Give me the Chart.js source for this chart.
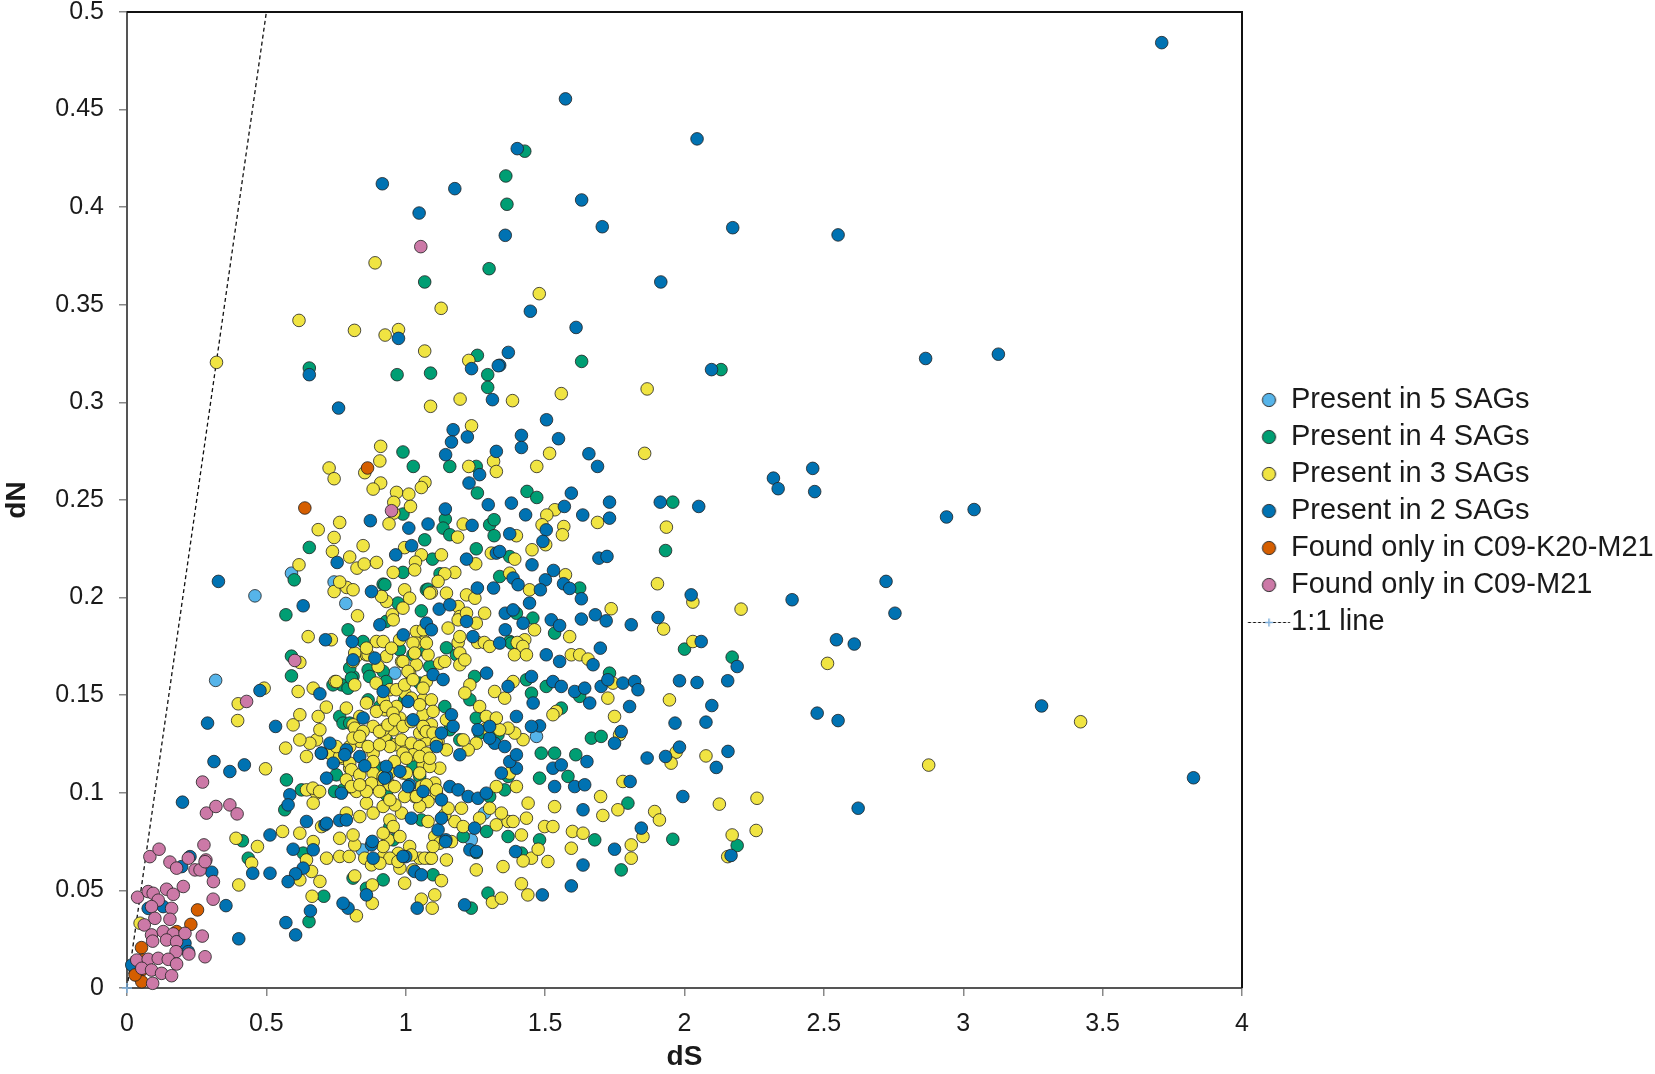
<!DOCTYPE html>
<html>
<head>
<meta charset="utf-8">
<title>dN vs dS</title>
<script src="https://cdn.jsdelivr.net/npm/chart.js@4.4.1/dist/chart.umd.min.js"></script>
<style>
  html, body { margin: 0; padding: 0; background: #fff; }
</style>
</head>
<body>
<canvas id="myChart" width="1655" height="1074"></canvas>
<script>
const FONT = "'Liberation Sans', Arial, Helvetica, sans-serif";

const seriesNames = [
    'Present in 5 SAGs',
    'Present in 4 SAGs',
    'Present in 3 SAGs',
    'Present in 2 SAGs',
    'Found only in C09-K20-M21',
    'Found only in C09-M21',
    '1:1 line',
];
const seriesColors = ['#56B4E9', '#009E73', '#F0E442', '#0072B2', '#D55E00', '#CC79A7'];

// [dS, dN] pairs
const sag5 = [
    [0.318,0.1576],[0.459,0.2009],[0.59,0.2125],[0.743,0.208],[0.785,0.197],[0.961,0.1613],
    [1.469,0.1289],[1.283,0.0896],[1.235,0.0759],[0.844,0.0707]
];

const sag4 = [
    [1.427,0.4287],[1.359,0.416],[1.363,0.4015],[1.631,0.321],[2.131,0.3168],
    [1.299,0.3685],[1.068,0.3617],[0.654,0.3176],[0.969,0.3142],[1.089,0.315],[1.257,0.3241],[1.294,0.3142],[1.294,0.3077],
    [0.99,0.2746],[1.027,0.2672],[1.158,0.2672],[1.257,0.2536],[0.99,0.2428],[1.142,0.2402],[1.134,0.2356],[1.158,0.2322],
    [1.435,0.2544],[1.47,0.2513],[1.301,0.2373],[1.317,0.2399],[1.317,0.2317],[0.654,0.2257],[0.6,0.2091],[1.068,0.2296],
    [1.096,0.2197],[1.253,0.225],[1.373,0.221],[0.919,0.2069],[0.57,0.1912],[0.972,0.1972],[1.056,0.1932],[1.074,0.204],
    [1.123,0.2122],[1.337,0.2108],[0.793,0.1835],[0.847,0.1775],[1.146,0.1743],
    [1.958,0.2489],[1.932,0.2241],[1.624,0.2049],[2.0,0.1736],[1.534,0.1818],[1.456,0.1895],[1.373,0.1775],
    [1.253,0.2672],[0.99,0.2129],[0.925,0.2066],[1.08,0.2043],[1.397,0.192],
    [2.171,0.1695],[1.958,0.0762],[2.189,0.073],
    [1.379,0.1767],[1.026,0.1707],[1.182,0.1707],[0.919,0.1622],[1.05,0.1562],[1.247,0.1596],[1.433,0.1579],[1.451,0.151],
    [1.23,0.1477],[1.504,0.1545],[1.624,0.1494],[1.731,0.1613],[1.558,0.1434],[1.666,0.128],[1.701,0.1289],[1.486,0.1203],
    [1.534,0.1203],[1.61,0.1195],[1.582,0.1084],[1.48,0.1075],[1.797,0.0947],[1.48,0.0759],[1.367,0.0776],[1.415,0.0691],
    [1.678,0.0759],[1.773,0.0605],[1.29,0.0802],[1.206,0.0776],[1.056,0.0861],[0.931,0.0989],[1.367,0.1084],[1.355,0.1015],
    [1.301,0.0981],[1.331,0.1297],[1.265,0.1306],[1.194,0.1271],[0.907,0.1442],[1.14,0.1442],[1.253,0.1383],[1.158,0.1323],
    [0.913,0.1126],[1.026,0.1135],[1.05,0.1084],
    [0.632,0.0691],[0.811,0.0563],[0.859,0.0511],[0.919,0.0554],[1.098,0.058],[1.295,0.0486],[1.235,0.0409],
    [0.706,0.047],[0.653,0.034],[1.253,0.0694],
    [0.59,0.17],[0.59,0.1599],[0.414,0.0754],[0.435,0.0665],
    [0.77,0.1553],[0.793,0.1536],[0.811,0.1596],[0.763,0.1391],[0.775,0.1357],[0.572,0.1066],[0.566,0.0913],[0.931,0.1271],
    [0.943,0.0827],[0.955,0.0759],
    [0.93,0.1878],[0.978,0.1733],[1.05,0.1733],[1.086,0.1647],[0.799,0.1639],[0.865,0.163],[0.805,0.1587],[0.87,0.1596],
    [0.93,0.157],[0.865,0.1476],[0.739,0.1553],[0.996,0.1476],[0.799,0.1357],[0.751,0.1092],[0.775,0.1015],[0.626,0.1015],
    [0.745,0.1007]
];

const sag3 = [
    [3.421,0.1364],[2.876,0.1142],[1.479,0.3557],
    [0.89,0.3715],[1.127,0.3482],[0.617,0.342],[0.816,0.3369],[0.926,0.3345],[0.974,0.3373],[0.321,0.3205],[1.068,0.3263],
    [1.226,0.3215],[1.383,0.3009],[1.195,0.3017],[1.089,0.298],[1.236,0.288],[1.226,0.2672],[1.315,0.2698],[1.325,0.2646],
    [1.47,0.2672],[0.91,0.2775],[0.907,0.27],[0.853,0.264],[0.725,0.2664],[0.743,0.2609],[0.91,0.2587],[0.883,0.2556],
    [1.069,0.259],[1.056,0.2564],[0.967,0.2539],[1.011,0.253],[0.957,0.2488],[1.017,0.2467],[0.957,0.2433],[0.94,0.2378],
    [0.763,0.2385],[0.686,0.2348],[0.743,0.2308],[0.737,0.2236],[0.847,0.2266],[1.206,0.2377],[1.186,0.231],[1.397,0.2317],
    [0.617,0.2168],[0.799,0.2208],[0.825,0.2151],[0.851,0.2172],[0.895,0.218],[1.056,0.2219],[1.035,0.2182],[1.128,0.2219],
    [1.251,0.2173],[1.307,0.2228],[1.391,0.2197],[1.453,0.2245],[0.743,0.2031],[0.788,0.2052],[0.811,0.204],[0.763,0.208],
    [0.931,0.198],[0.996,0.204],[1.014,0.1997],[0.99,0.1946],[0.952,0.1912],[0.955,0.1886],[0.827,0.1907],[1.092,0.2026],
    [1.146,0.2023],[1.176,0.2129],[1.14,0.2122],[1.116,0.2083],[1.188,0.1954],[1.218,0.2014],[1.248,0.1997],[1.194,0.1903],
    [1.253,0.1869],[1.283,0.192],[1.152,0.1844],[1.373,0.2125],[1.444,0.204],[1.462,0.1835],[1.427,0.1784],[0.65,0.18],
    [0.733,0.1784],[0.895,0.1775],[0.919,0.1775],[0.978,0.1784],[1.038,0.1826],[1.068,0.1775],[1.188,0.177],[1.258,0.177],
    [1.282,0.177],[1.4,0.177],[1.42,0.175],
    [1.866,0.3069],[1.558,0.3045],[1.516,0.2739],[1.857,0.2739],[1.535,0.245],[1.506,0.2423],[1.489,0.2373],[1.688,0.2385],
    [1.935,0.2361],[1.567,0.2364],[1.562,0.2322],[1.502,0.2271],[1.573,0.2117],[1.903,0.2071],[2.03,0.1977],[2.203,0.1941],
    [1.737,0.1943],[1.925,0.1839],[1.588,0.18],[2.03,0.1775],
    [0.996,0.2256],[0.955,0.2129],[1.032,0.2142],[1.086,0.2023],[0.913,0.2006],[1.188,0.1886],[1.218,0.192],[1.194,0.18],
    [1.063,0.1835],
    [2.513,0.1663],[1.946,0.1476],[1.97,0.1208],[1.952,0.1152],[2.077,0.1189],[2.125,0.0942],[2.26,0.0972],[2.171,0.0784],
    [2.257,0.0807],[2.155,0.0673],
    [1.038,0.1767],[1.08,0.1707],[1.194,0.1716],[1.301,0.175],[1.39,0.1707],[1.433,0.1707],[1.594,0.1707],[1.624,0.1707],
    [1.654,0.1685],[1.038,0.1656],[1.194,0.1656],[1.212,0.1681],[0.985,0.1673],[0.931,0.1699],[0.949,0.1741],[1.014,0.1613],
    [1.074,0.157],[1.122,0.1664],[1.14,0.1673],[1.23,0.1553],[1.212,0.1511],[1.385,0.157],[1.319,0.1519],[1.355,0.1485],
    [1.743,0.1562],[1.725,0.1485],[1.749,0.1391],[1.54,0.1417],[1.528,0.14],[1.767,0.1297],[1.779,0.1058],[1.699,0.0981],
    [1.761,0.0913],[1.707,0.0884],[1.893,0.0904],[1.91,0.0861],[1.534,0.0929],[1.498,0.0827],[1.528,0.0827],[1.598,0.0802],
    [1.636,0.0793],[1.594,0.0716],[1.51,0.0648],[1.451,0.0665],[1.475,0.0711],[1.349,0.0622],[1.421,0.0651],[1.809,0.0733],
    [1.809,0.0665],[1.851,0.0776],[1.253,0.0605],[1.325,0.0836],[1.367,0.0853],[1.385,0.0853],[1.433,0.087],[1.415,0.0784],
    [1.164,0.075],[1.146,0.0656],[1.086,0.0665],[1.05,0.0665],[0.973,0.069],[0.937,0.0759],[0.919,0.0673],[0.979,0.0614],
    [1.026,0.0605],[1.176,0.0853],[1.206,0.0827],[1.14,0.0887],[1.08,0.0853],[1.104,0.0776],[1.122,0.0742],[1.11,0.0998],
    [1.08,0.0955],[1.05,0.093],[1.032,0.0981],[0.985,0.0896],[0.961,0.0938],[0.943,0.0861],[0.955,0.0827],[0.919,0.0793],
    [0.979,0.0776],[1.325,0.1032],[1.343,0.0896],[1.301,0.0921],[1.265,0.087],[1.2,0.0921],[1.152,0.0921],[1.397,0.1032],
    [1.373,0.1101],[1.439,0.0947],[1.421,0.1272],[1.391,0.1306],[1.367,0.1331],[1.337,0.1323],[1.289,0.1331],[1.253,0.1254],
    [1.224,0.122],[1.206,0.1271],[1.146,0.122],[1.116,0.1263],[1.074,0.1271],[1.038,0.1229],[1.05,0.1306],[0.997,0.1254],
    [0.961,0.1246],[0.925,0.1289],[0.955,0.1323],[0.943,0.1528],[0.997,0.1511],[1.062,0.1477],[1.062,0.14],[1.092,0.1349],
    [1.068,0.1323],[0.979,0.1383],[0.967,0.1442],[0.925,0.1425],[1.146,0.1374],[1.265,0.1442],[1.289,0.1391],[1.325,0.1383],
    [0.991,0.1101],[1.062,0.1143],[1.122,0.1126],[1.104,0.105],[1.056,0.1032],
    [0.668,0.075],[0.716,0.0665],[0.763,0.0674],[0.797,0.0674],[0.817,0.0733],[0.853,0.0665],[0.877,0.0631],[0.919,0.0725],
    [0.943,0.0665],[0.972,0.0648],[1.014,0.0725],[1.02,0.0682],[1.068,0.0665],[1.092,0.0665],[1.098,0.0725],[0.62,0.0554],
    [0.662,0.0597],[0.692,0.0546],[0.664,0.047],[0.823,0.037],[0.88,0.0434],[0.88,0.0528],[0.817,0.0574],[0.996,0.0537],
    [1.128,0.055],[1.104,0.0477],[1.056,0.0455],[1.095,0.0409],[1.415,0.0534],[1.438,0.0477],[1.311,0.0439],[1.343,0.046],
    [0.62,0.1668],[0.492,0.1536],[0.399,0.1456],[0.397,0.137],[0.569,0.1229],[0.497,0.1123],[0.401,0.0528],[0.391,0.0767],
    [0.468,0.0725],[0.447,0.064],[0.558,0.0802],[0.62,0.0793],[0.644,0.0656],[0.907,0.0639],[0.698,0.0827],[0.763,0.0767],
    [0.047,0.0332],
    [0.614,0.1519],[0.668,0.1536],[0.746,0.157],[0.787,0.1434],[0.823,0.17],[0.859,0.1707],[0.901,0.1647],[0.919,0.1477],
    [0.895,0.1417],[0.859,0.146],[0.835,0.1391],[0.811,0.1348],[0.883,0.134],[0.919,0.1323],[0.943,0.1237],[0.883,0.1203],
    [0.835,0.1263],[0.799,0.1237],[0.775,0.1177],[0.799,0.1126],[0.74,0.1203],[0.68,0.1271],[0.656,0.1254],[0.62,0.1271],
    [0.644,0.1186],[0.596,0.1348],[0.62,0.14],[0.692,0.1323],[0.686,0.1391],[0.644,0.1015],[0.68,0.0998],[0.668,0.0947],
    [0.811,0.0784],[0.835,0.0878],[0.859,0.0947],[0.883,0.0896],[0.919,0.093],[0.943,0.0964],[0.859,0.1032],[0.895,0.1049],
    [0.943,0.1041],[0.811,0.1024],[0.787,0.0896],[0.823,0.1007],[0.883,0.1101],[0.919,0.1083],
    [1.074,0.1767],[1.026,0.1767],[0.99,0.1673],[1.032,0.1716],[1.008,0.1622],[0.817,0.1716],[0.811,0.1673],[0.865,0.1707],
    [0.859,0.1741],[0.715,0.1439],[0.751,0.157],[0.817,0.1553],[0.894,0.1562],[0.93,0.1442],[0.954,0.1408],[0.966,0.1528],
    [0.996,0.1553],[1.026,0.1579],[1.062,0.1536],[1.02,0.1485],[1.05,0.1451],[1.092,0.1476],[1.098,0.1417],[0.727,0.1203],
    [0.763,0.1186],[0.751,0.1237],[0.817,0.1331],[0.847,0.1314],[0.906,0.1314],[0.936,0.1348],[0.96,0.1374],[0.99,0.134],
    [1.02,0.1365],[1.062,0.134],[1.074,0.1314],[1.098,0.1306],[0.811,0.128],[0.835,0.1289],[0.865,0.1237],[0.906,0.1246],
    [0.984,0.1271],[1.02,0.1254],[1.05,0.1237],[1.11,0.1254],[1.074,0.1203],[1.026,0.1195],[0.99,0.1203],[0.799,0.1152],
    [0.805,0.1118],[0.835,0.1092],[0.883,0.116],[0.96,0.116],[1.002,0.1177],[1.05,0.1186],[1.086,0.1135],[1.05,0.1101],
    [1.002,0.1101],[0.942,0.1101],[0.877,0.1049],[0.859,0.1007],[0.906,0.1007],[0.96,0.1032],[0.996,0.0981],[1.038,0.0981],
    [1.074,0.1041],[1.11,0.1015],[0.667,0.1024],[0.691,0.1007],[0.787,0.1066],[0.805,0.1032],[0.835,0.1041],[1.086,0.1177]
];

const sag2 = [
    [1.573,0.4555],[2.045,0.435],[1.4,0.43],[1.357,0.3856],[1.631,0.4037],[1.705,0.39],[2.173,0.3895],[1.915,0.3617],
    [1.447,0.3467],[1.611,0.3384],[1.368,0.3256],[1.337,0.319],[2.097,0.3168],
    [3.712,0.4843],[3.826,0.1077],[3.126,0.3247],[2.865,0.3225],[2.551,0.3858],[2.46,0.2662],[2.467,0.2543],[2.94,0.2413],
    [3.039,0.2451],[3.281,0.1445],
    [0.916,0.412],[1.176,0.4095],[1.048,0.397],[0.974,0.3328],[0.654,0.3142],[1.236,0.3173],[1.332,0.3188],[1.311,0.3014],
    [0.759,0.2971],[1.17,0.286],[1.164,0.2797],[1.143,0.2732],[1.221,0.2823],[1.415,0.2831],[1.415,0.2769],[1.325,0.2749],
    [1.265,0.263],[1.227,0.2587],[1.142,0.2454],[1.296,0.2476],[1.379,0.2484],[1.43,0.2424],[0.873,0.2394],[1.011,0.2356],
    [1.08,0.2377],[1.238,0.237],[1.373,0.2327],[0.754,0.218],[1.021,0.2266],[0.964,0.2219],[1.218,0.2197],[1.325,0.2228],
    [1.337,0.2236],[1.453,0.2168],[0.328,0.2083],[0.632,0.1958],[0.877,0.2031],[0.907,0.1861],[1.12,0.1941],[1.158,0.1963],
    [1.257,0.2049],[1.315,0.2049],[1.074,0.1869],[1.092,0.1835],[1.218,0.1878],[1.241,0.18],[1.357,0.192],[1.385,0.1937],
    [1.421,0.1869],[1.357,0.1835],[1.385,0.21],[1.403,0.2066],[1.444,0.1972],[0.712,0.1784],[0.808,0.1775],[0.991,0.1809],
    [1.337,0.1767],
    [1.505,0.2911],[1.548,0.2814],[1.657,0.2737],[1.688,0.2672],[2.319,0.2612],[2.336,0.2558],[1.594,0.2535],[1.569,0.2467],
    [1.635,0.2423],[1.731,0.2489],[1.731,0.2407],[1.913,0.2489],[2.051,0.2467],[1.504,0.2347],[1.492,0.2288],[1.53,0.2139],
    [1.501,0.2091],[1.483,0.204],[1.566,0.2071],[1.588,0.2047],[1.63,0.1994],[1.693,0.2202],[1.722,0.2211],[2.024,0.2014],
    [2.386,0.1989],[1.63,0.189],[1.68,0.1912],[1.719,0.1881],[1.809,0.1861],[1.905,0.1898],[2.06,0.1775],[1.698,0.1741],
    [1.522,0.1886],[1.552,0.1857],
    [2.723,0.2083],[2.755,0.192],[2.189,0.1647],[2.545,0.1784],[2.609,0.1762],[1.982,0.1574],[2.045,0.1565],[2.155,0.1574],
    [2.098,0.1447],[1.966,0.1357],[2.077,0.1362],[2.476,0.1408],[2.551,0.137],[1.982,0.1234],[2.156,0.1212],[2.114,0.113],
    [1.994,0.0981],[2.623,0.0921],[2.167,0.0679],
    [1.504,0.1707],[1.552,0.1673],[1.672,0.1656],[1.098,0.1605],[1.134,0.158],[1.29,0.1613],[1.367,0.1545],[1.451,0.1596],
    [1.457,0.146],[1.528,0.157],[1.558,0.1545],[1.606,0.1519],[1.642,0.1536],[1.701,0.1545],[1.725,0.1579],[1.779,0.1562],
    [1.821,0.157],[1.833,0.1528],[1.803,0.1442],[1.66,0.146],[1.48,0.1343],[1.451,0.134],[1.773,0.1314],[1.749,0.1254],
    [1.866,0.1178],[1.932,0.1186],[1.528,0.1126],[1.558,0.1143],[1.65,0.116],[1.534,0.1032],[1.606,0.1032],[1.642,0.1041],
    [1.805,0.1058],[1.636,0.0913],[1.749,0.0711],[1.845,0.0819],[1.636,0.063],[1.394,0.0699],[1.23,0.0708],[1.253,0.0699],
    [1.247,0.0819],[1.144,0.0759],[1.116,0.081],[1.0,0.0673],[1.032,0.0597],[1.158,0.1032],[1.188,0.1015],[1.224,0.0981],
    [1.128,0.087],[1.02,0.087],[1.062,0.1007],[1.014,0.1041],[1.259,0.0972],[1.289,0.0998],[1.128,0.0964],[1.397,0.1126],
    [1.373,0.116],[1.343,0.1101],[1.319,0.1254],[1.301,0.128],[1.355,0.1237],[1.397,0.1195],[1.301,0.134],[1.259,0.1323],
    [1.194,0.1195],[1.164,0.14],[1.17,0.134],[1.128,0.1306],[1.11,0.1237],[1.026,0.1374],[1.008,0.1468],[0.919,0.1519],
    [0.931,0.1084],[1.397,0.1391],[0.93,0.1135],[0.979,0.111],
    [0.668,0.0708],[0.632,0.0614],[0.877,0.0733],[0.883,0.0665],[0.99,0.0674],[1.056,0.058],[1.143,0.075],[1.594,0.0523],
    [1.49,0.0477],[1.211,0.0426],[1.041,0.0409],[0.793,0.0409],[0.775,0.0434],[0.859,0.0477],[0.658,0.0395],[0.605,0.0272],
    [0.477,0.1524],[0.289,0.1357],[0.533,0.134],[0.312,0.116],[0.369,0.1109],[0.421,0.1143],[0.199,0.0952],[0.196,0.0622],
    [0.226,0.0673],[0.304,0.0593],[0.13,0.0417],[0.355,0.0422],[0.401,0.0252],[0.57,0.0335],[0.451,0.0588],[0.513,0.0588],
    [0.513,0.0784],[0.596,0.0711],[0.605,0.0585],[0.578,0.0545],[0.71,0.0836],[0.644,0.0853],[0.716,0.0844],[0.763,0.0858],
    [0.787,0.0861],[0.88,0.0751],
    [0.692,0.1507],[0.698,0.1203],[0.728,0.1254],[0.74,0.1152],[0.787,0.122],[0.811,0.1681],[0.847,0.1383],[0.835,0.1186],
    [0.853,0.1138],[0.716,0.1075],[0.584,0.099],[0.578,0.0938],[0.889,0.169],
    [0.697,0.1203],[0.781,0.1195],[0.924,0.1075],[1.008,0.1032],[0.769,0.0998],
    [0.076,0.0408],[0.208,0.0229],[0.22,0.0186],[0.017,0.0118],[0.035,0.0067]
];

const onlyK20M21 = [
    [0.863,0.2664],[0.638,0.2459],[0.253,0.04],[0.229,0.0326],[0.052,0.0207],[0.178,0.0289],[0.059,0.0143],[0.053,0.0092],
    [0.053,0.0032],[0.029,0.0067]
];

const onlyM21 = [
    [1.054,0.3798],[0.949,0.2445],[0.602,0.1678],[0.429,0.1468],[0.271,0.1055],[0.285,0.0896],[0.319,0.093],[0.369,0.0938],
    [0.395,0.0892],[0.082,0.0673],[0.115,0.0711],[0.154,0.0645],[0.178,0.0614],[0.22,0.0665],[0.244,0.0605],[0.262,0.0605],
    [0.276,0.0733],[0.283,0.0656],[0.31,0.0545],[0.202,0.052],[0.309,0.0455],[0.038,0.0465],[0.076,0.0494],[0.094,0.0485],
    [0.142,0.0506],[0.166,0.048],[0.112,0.045],[0.088,0.0417],[0.16,0.0408],[0.1,0.0357],[0.154,0.0352],[0.062,0.0323],
    [0.088,0.0272],[0.13,0.0289],[0.166,0.0277],[0.092,0.024],[0.142,0.0246],[0.178,0.0237],[0.208,0.028],[0.27,0.0266],
    [0.176,0.0186],[0.222,0.0174],[0.28,0.016],[0.035,0.0143],[0.076,0.0147],[0.112,0.0152],[0.148,0.0147],[0.178,0.0123],
    [0.053,0.0101],[0.088,0.0092],[0.124,0.0075],[0.16,0.0063],[0.092,0.0024],[0.28,0.0647]
];

const oneToOne = [[0, 0], [0.5, 0.5]];

const toXY = arr => arr.map(p => ({ x: p[0], y: p[1] }));
const fmt = v => String(Math.round(v * 100) / 100);

// legend icons, drawn a little right of the box centre
function makeDot(color) {
    const c = document.createElement('canvas');
    c.width = 30; c.height = 18;
    const g = c.getContext('2d');
    g.beginPath();
    g.arc(20.75, 9, 6.6, 0, Math.PI * 2);
    g.fillStyle = color;
    g.fill();
    g.lineWidth = 1;
    g.strokeStyle = '#2b2b2b';
    g.stroke();
    return c;
}

function makeLineIcon() {
    const c = document.createElement('canvas');
    c.width = 70; c.height = 18;
    const g = c.getContext('2d');
    g.strokeStyle = '#111';
    g.lineWidth = 1;
    g.setLineDash([3, 2]);
    g.beginPath();
    g.moveTo(19.75, 9.5);
    g.lineTo(61.75, 9.5);
    g.stroke();
    g.setLineDash([]);
    g.strokeStyle = '#7fb0dc';
    g.lineWidth = 1.5;
    g.beginPath();
    g.moveTo(36.75, 9.5); g.lineTo(44.75, 9.5);
    g.moveTo(40.75, 5.5); g.lineTo(40.75, 13.5);
    g.stroke();
    return c;
}

const legendIcons = seriesColors.map(makeDot).concat([makeLineIcon()]);

function pointSet(i, arr, order) {
    return {
        label: seriesNames[i],
        data: toXY(arr),
        backgroundColor: seriesColors[i],
        borderColor: 'rgba(35,35,35,0.9)',
        borderWidth: 0.9,
        pointRadius: 6.3,
        pointHoverRadius: 6.3,
        clip: false,
        order: order
    };
}

const frame = {
    id: 'frame',
    beforeDatasetsDraw(chart) {
        const a = chart.chartArea;
        const ctx = chart.ctx;
        ctx.save();
        ctx.strokeStyle = '#111';
        ctx.lineWidth = 2;
        ctx.beginPath();
        ctx.moveTo(a.left, a.top);
        ctx.lineTo(a.right, a.top);
        ctx.lineTo(a.right, a.bottom);
        ctx.stroke();
        ctx.restore();
    }
};

const data = {
    datasets: [
        pointSet(0, sag5, 6),
        pointSet(1, sag4, 5),
        pointSet(2, sag3, 4),
        pointSet(3, sag2, 3),
        pointSet(4, onlyK20M21, 2),
        pointSet(5, onlyM21, 1),
        {
            label: seriesNames[6],
            data: toXY(oneToOne),
            showLine: true,
            borderColor: '#111',
            borderWidth: 1.3,
            borderDash: [4, 3],
            pointStyle: 'cross',
            pointRadius: [5, 0],
            pointBorderColor: '#7fb0dc',
            pointBorderWidth: 1.5,
            clip: false,
            order: 7
        }
    ]
};

const config = {
    type: 'scatter',
    data: data,
    options: {
        responsive: false,
        animation: false,
        devicePixelRatio: 1,
        layout: { padding: { top: 12, right: 0, bottom: 0, left: 0 } },
        plugins: {
            tooltip: { enabled: false },
            legend: {
                position: 'right',
                fullSize: false,
                maxWidth: 413,
                title: { display: true, text: '', font: { size: 10, lineHeight: 1 }, padding: { top: 12, bottom: 0 } },
                labels: {
                    usePointStyle: true,
                    pointStyleWidth: 26.5,
                    boxHeight: 16,
                    padding: 8,
                    color: '#1a1a1a',
                    font: { family: FONT, size: 29 },
                    generateLabels: chart => chart.data.datasets.map((ds, i) => ({
                        text: ds.label,
                        datasetIndex: i,
                        pointStyle: legendIcons[i],
                        hidden: false,
                        lineWidth: 0,
                        fillStyle: 'transparent',
                        strokeStyle: 'transparent',
                        fontColor: '#1a1a1a'
                    }))
                }
            }
        },
        scales: {
            x: {
                type: 'linear',
                min: 0,
                max: 4,
                afterFit: s => { s.height = 86; s.paddingLeft = 0; s.paddingRight = 0; },
                border: { display: true, color: '#555', width: 2 },
                grid: { drawOnChartArea: false, drawTicks: true, tickLength: 8, color: '#888', lineWidth: 1.5 },
                ticks: {
                    stepSize: 0.5, padding: 13, maxRotation: 0, autoSkip: false,
                    color: '#1a1a1a', font: { family: FONT, size: 25 }, callback: fmt
                },
                title: {
                    display: true, text: 'dS', color: '#1a1a1a',
                    font: { family: FONT, size: 28, weight: 'bold' }, padding: { top: 0, bottom: 0 }
                }
            },
            y: {
                type: 'linear',
                min: 0,
                max: 0.5,
                afterFit: s => { s.width = 127; s.paddingTop = 0; s.paddingBottom = 0; },
                border: { display: true, color: '#555', width: 2 },
                grid: { drawOnChartArea: false, drawTicks: true, tickLength: 8, color: '#888', lineWidth: 1.5 },
                ticks: {
                    stepSize: 0.05, padding: 15, autoSkip: false,
                    color: '#1a1a1a', font: { family: FONT, size: 25 }, callback: fmt
                },
                title: {
                    display: true, text: 'dN', color: '#1a1a1a',
                    font: { family: FONT, size: 28, weight: 'bold' }, padding: { top: 0, bottom: 0 }
                }
            }
        }
    },
    plugins: [frame]
};

const myChart = new Chart(document.getElementById('myChart'), config);
</script>
</body>
</html>
